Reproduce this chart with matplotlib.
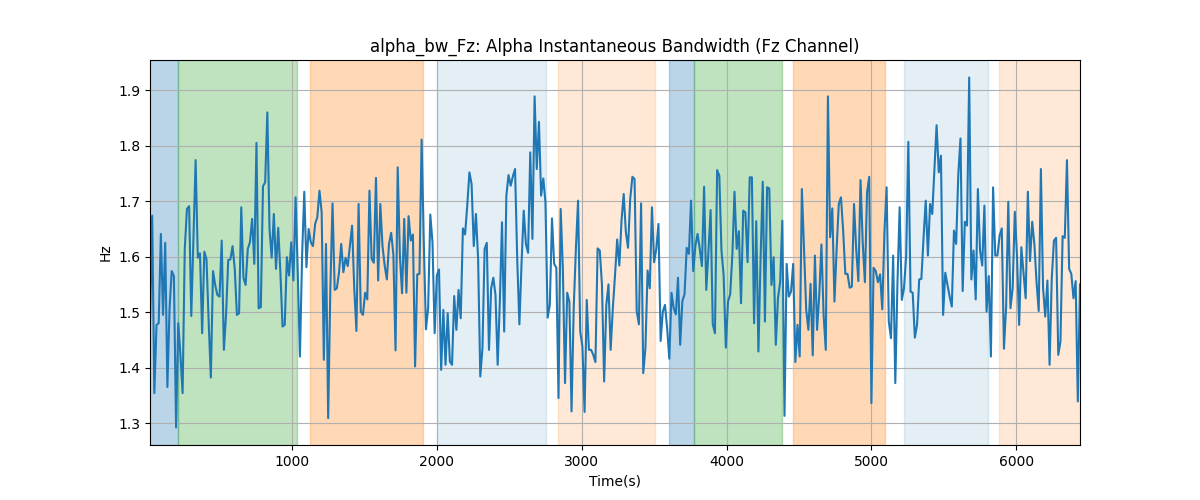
import numpy as np
import matplotlib
matplotlib.use('Agg')
import matplotlib.pyplot as plt

# sampling of the bandwidth trace (seconds)
t_start = 20
t_step = 15

bw_values = [
    1.477, 1.674, 1.354, 1.477, 1.480, 1.641, 1.495, 1.625, 1.365, 1.507,
    1.574, 1.565, 1.292, 1.480, 1.423, 1.354, 1.614, 1.686, 1.691, 1.493,
    1.632, 1.774, 1.598, 1.606, 1.462, 1.609, 1.595, 1.483, 1.382, 1.574,
    1.549, 1.531, 1.528, 1.629, 1.432, 1.495, 1.594, 1.595, 1.619, 1.578,
    1.495, 1.498, 1.689, 1.562, 1.549, 1.614, 1.626, 1.668, 1.587, 1.805,
    1.507, 1.509, 1.727, 1.734, 1.860, 1.650, 1.598, 1.677, 1.578, 1.652,
    1.572, 1.474, 1.477, 1.599, 1.566, 1.626,
    # ~1030 s
    1.557, 1.707, 1.572, 1.420, 1.602, 1.717, 1.581, 1.650, 1.626, 1.619,
    1.659, 1.671, 1.719, 1.680, 1.414, 1.623, 1.309, 1.543, 1.696, 1.540,
    1.543, 1.572, 1.623, 1.572, 1.598, 1.583, 1.620, 1.656, 1.543, 1.466,
    1.695, 1.501, 1.495, 1.535, 1.523, 1.719, 1.596, 1.589, 1.742, 1.557,
    1.695, 1.619, 1.584, 1.559, 1.623, 1.643, 1.604, 1.431, 1.761, 1.602,
    1.534, 1.668, 1.535, 1.673, 1.629, 1.640, 1.402, 1.568, 1.569, 1.811,
    1.626, 1.469, 1.507, 1.676, 1.626, 1.462, 1.566, 1.577, 1.396,
    # ~2060 s
    1.504, 1.405, 1.498, 1.411, 1.405, 1.529, 1.468, 1.540, 1.489, 1.651,
    1.640, 1.692, 1.752, 1.731, 1.619, 1.677, 1.596, 1.384, 1.435, 1.614,
    1.625, 1.432, 1.543, 1.562, 1.531, 1.405, 1.519, 1.662, 1.465, 1.710,
    1.747, 1.728, 1.745, 1.758, 1.596, 1.478, 1.589, 1.683, 1.623, 1.607,
    1.788, 1.632, 1.889, 1.758, 1.843, 1.710, 1.741, 1.698, 1.490, 1.513,
    1.669, 1.587, 1.580, 1.345, 1.686, 1.578, 1.372, 1.535, 1.519, 1.321,
    1.507, 1.614, 1.701, 1.465, 1.438, 1.320, 1.522, 1.432, 1.432, 1.423,
    # ~3100 s
    1.410, 1.615, 1.611, 1.549, 1.375, 1.513, 1.550, 1.432, 1.507, 1.566,
    1.631, 1.584, 1.665, 1.713, 1.644, 1.616, 1.704, 1.744, 1.740, 1.501,
    1.478, 1.696, 1.390, 1.435, 1.575, 1.543, 1.689, 1.590, 1.614, 1.659,
    1.448, 1.501, 1.513, 1.471, 1.416, 1.535, 1.507, 1.496, 1.562, 1.441,
    1.520, 1.532, 1.616, 1.605, 1.701, 1.574, 1.620, 1.641, 1.614, 1.583,
    1.726, 1.540, 1.609, 1.684, 1.478, 1.462, 1.756, 1.746, 1.611, 1.566,
    1.436, 1.519, 1.532, 1.602, 1.717, 1.614, 1.646, 1.516, 1.683,
    # ~4140 s
    1.680, 1.590, 1.743, 1.743, 1.480, 1.664, 1.429, 1.596, 1.735, 1.483,
    1.725, 1.723, 1.549, 1.599, 1.441, 1.525, 1.554, 1.665, 1.313, 1.587,
    1.528, 1.537, 1.587, 1.410, 1.477, 1.420, 1.722, 1.614, 1.504, 1.468,
    1.551, 1.422, 1.602, 1.468, 1.531, 1.622, 1.495, 1.432, 1.889, 1.635,
    1.687, 1.519, 1.614, 1.695, 1.707, 1.647, 1.569, 1.569, 1.544, 1.546,
    1.695, 1.614, 1.556, 1.738, 1.626, 1.554, 1.716, 1.744, 1.336, 1.580,
    1.574, 1.554, 1.568, 1.505, 1.644, 1.725, 1.483, 1.453, 1.602,
    # ~5170 s
    1.372, 1.554, 1.689, 1.522, 1.543, 1.602, 1.807, 1.537, 1.535, 1.454,
    1.477, 1.559, 1.560, 1.634, 1.701, 1.602, 1.695, 1.677, 1.758, 1.837,
    1.752, 1.782, 1.495, 1.571, 1.549, 1.528, 1.510, 1.647, 1.623, 1.749,
    1.813, 1.538, 1.663, 1.656, 1.923, 1.559, 1.611, 1.523, 1.722, 1.611,
    1.584, 1.692, 1.501, 1.565, 1.420, 1.725, 1.602, 1.602, 1.638, 1.651,
    1.434, 1.510, 1.699, 1.507, 1.543, 1.681, 1.602, 1.477, 1.617, 1.572,
    1.525, 1.717, 1.592, 1.663, 1.623, 1.554, 1.502, 1.758, 1.543, 1.492,
    1.557, 1.405, 1.560, 1.629, 1.634, 1.423, 1.447, 1.637, 1.634, 1.774,
    1.578, 1.569, 1.525, 1.556, 1.339, 1.550,
]

# shaded condition blocks: (start, end, color, alpha)
block_starts = [0, 212, 1127, 2000, 2837, 3602, 3775, 4462, 5223, 5878]
block_ends = [212, 1034, 1907, 2757, 3506, 3775, 4382, 5094, 5808, 6500]
block_colors = ['tab:blue', 'tab:green', 'tab:orange', 'tab:blue', 'tab:orange',
                'tab:blue', 'tab:green', 'tab:orange', 'tab:blue', 'tab:orange']
block_alphas = [0.3, 0.3, 0.3, 0.12, 0.17, 0.3, 0.3, 0.3, 0.12, 0.17]

t = t_start + t_step * np.arange(len(bw_values))
bw = np.array(bw_values)

fig, ax = plt.subplots(figsize=(12, 5), dpi=100)

for s, e, c, a in zip(block_starts, block_ends, block_colors, block_alphas):
    ax.axvspan(s, e, color=c, alpha=a)

ax.plot(t, bw, color='tab:blue', linewidth=1.5)
ax.set_xlim(t[0], t[-1])
ax.set_title('alpha_bw_Fz: Alpha Instantaneous Bandwidth (Fz Channel)')
ax.set_xlabel('Time(s)')
ax.set_ylabel('Hz')
ax.grid(True)

fig.savefig('out.png')
